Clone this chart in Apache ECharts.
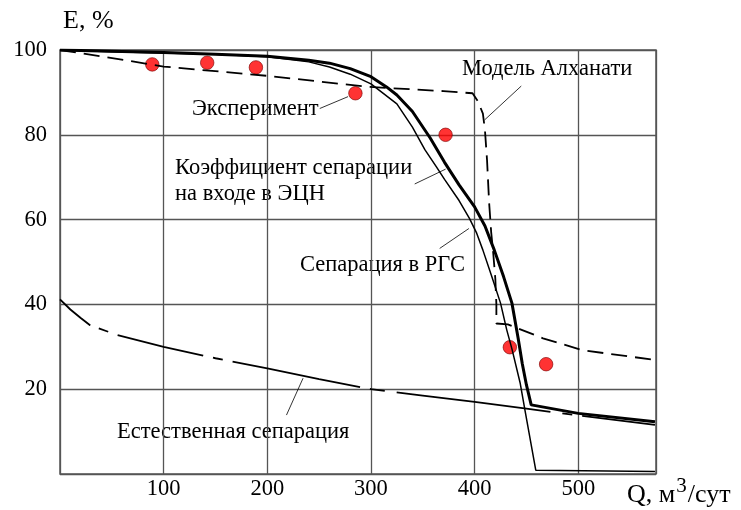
<!DOCTYPE html>
<html><head><meta charset="utf-8">
<script src="https://cdn.jsdelivr.net/npm/echarts@6/dist/echarts.min.js"></script>
<style>html,body{margin:0;padding:0;background:#fff}#c{width:741px;height:510px}</style>
</head><body><div id="c"></div>
<script>
const xTicks = [100, 200, 300, 400, 500];
const yTicks = [20, 40, 60, 80, 100];

// Коэффициент сепарации на входе в ЭЦН (thick)
const ecn = [[0,100],[50,99.7],[100,99.4],[150,99.0],[200,98.5],[240,97.6],[260,96.9],[280,95.6],[300,93.7],[315,91.3],[325,89.4],[340,85.5],[357,79.3],[371,73.5],[385,68.2],[400,63],[410,58.5],[419,52.8],[428,46.5],[436,40.3],[442,32],[446,26],[450,21],[454.6,16.3],[500,14.3],[574,12.3]];
// Сепарация в РГС (thin)
const rgs = [[0,100],[50,99.6],[100,99.3],[150,99.0],[200,98.4],[240,97.2],[260,96.0],[280,94.3],[300,92],[325,87.3],[340,81.8],[352,76.5],[363,72.5],[371,69.5],[385,64.5],[395,60.3],[402,56.8],[408,52.8],[416,47],[425,40.3],[431,34],[436,29.5],[444,21.4],[449,14.5],[459,0.9],[574,0.6]];
// Модель Алханати (dashed)
const alkh = [[0,100],[58,97.8],[100,96.1],[200,93.9],[298,91.3],[370,90.3],[398,89.8],[403,88],[408,85],[410,81],[412,74],[414,64],[416,57],[418,52],[420,46],[421,40],[421,35.5],[432,35.3],[466,32],[504,29.2],[574,26.9]];
// Естественная сепарация
const natural = [[0,41.2],[10,38.8],[20,36.8],[29,35.1],[55,32.8],[100,30.0],[150,27.3],[200,24.9],[250,22.4],[300,20.0],[350,18.5],[400,17.0],[450,15.4],[500,13.8],[574,11.6]];
// Эксперимент
const experiment = [[89,96.6],[142,97.0],[189,95.9],[285,89.8],[372,80.0],[434,29.9],[469,25.9]];
// Pointer lines (callouts)
const pointers = [[[445,91.5],[409.6,83.5]],[[250.6,86.2],[277.9,89]],[[342.2,68.4],[372,71.9]],[[366.3,53.2],[394.5,57.9]],[[218.5,13.9],[234.5,22.6]]];

const FONT = '"Liberation Serif", "DejaVu Serif", serif';
const FS = 22.5;
const chart = echarts.init(document.getElementById('c'));

const pointerData = [];
pointers.forEach((p, i) => { if (i) pointerData.push([null, null]); pointerData.push(p[0], p[1]); });

function txt(x, y, t, fs) {
  return { type: 'text', x: x, y: y, style: { text: t, fontFamily: FONT, fontSize: fs || FS, fill: '#000', verticalAlign: 'middle', align: 'left' } };
}

chart.setOption({
  animation: false,
  backgroundColor: '#fff',
  grid: { left: 60, top: 50, right: 85, bottom: 36, show: true, borderColor: '#555', borderWidth: 1.5, backgroundColor: 'transparent' },
  xAxis: {
    type: 'value', min: 0, max: 575, interval: 100,
    axisLine: { show: false }, axisTick: { show: false },
    splitLine: { show: true, lineStyle: { color: '#555', width: 1.3 } },
    axisLabel: { margin: 4, color: '#000', fontFamily: FONT, fontSize: FS, formatter: v => xTicks.includes(v) ? String(v) : '' }
  },
  yAxis: {
    type: 'value', min: 0, max: 100, interval: 20,
    axisLine: { show: false }, axisTick: { show: false },
    splitLine: { show: true, lineStyle: { color: '#555', width: 1.3 } },
    axisLabel: { margin: 13, color: '#000', fontFamily: FONT, fontSize: FS, formatter: v => yTicks.includes(v) ? String(v) : '' }
  },
  series: [
    { type: 'line', data: natural, showSymbol: false, silent: true, lineStyle: { color: '#000', width: 1.8, type: [40, 9, 10, 10, 88, 10, 10, 10, 130, 10, 15, 12, 155, 12, 10, 10, 220] } },
    { type: 'line', data: alkh, showSymbol: false, silent: true, lineStyle: { color: '#000', width: 1.8, type: [16, 8] } },
    { type: 'line', data: rgs, showSymbol: false, silent: true, lineStyle: { color: '#000', width: 1.5 } },
    { type: 'line', data: ecn, showSymbol: false, silent: true, lineStyle: { color: '#000', width: 3 } },
    { type: 'line', data: pointerData, showSymbol: false, silent: true, connectNulls: false, lineStyle: { color: '#000', width: 0.8 } },
    { type: 'scatter', data: experiment, symbol: 'circle', symbolSize: 13.5, silent: true, itemStyle: { color: '#ff0000', borderColor: '#7a0000', borderWidth: 0.8 } }
  ],
  graphic: [
    txt(63, 21, 'E, %', 26),
    { type: 'text', x: 627, y: 495, style: { text: '{a|Q, м}{s|3}{a|/сут}', verticalAlign: 'middle', align: 'left', rich: { a: { fontFamily: FONT, fontSize: 26, fill: '#000' }, s: { fontFamily: FONT, fontSize: 21, fill: '#000', padding: [0, 1, 17, 1] } } } },
    txt(462, 69, 'Модель Алханати'),
    txt(192, 109, 'Эксперимент'),
    txt(175, 168, 'Коэффициент сепарации'),
    txt(175, 194, 'на входе в ЭЦН'),
    txt(300, 265, 'Сепарация в РГС'),
    txt(117, 432, 'Естественная сепарация')
  ]
});
</script></body></html>
